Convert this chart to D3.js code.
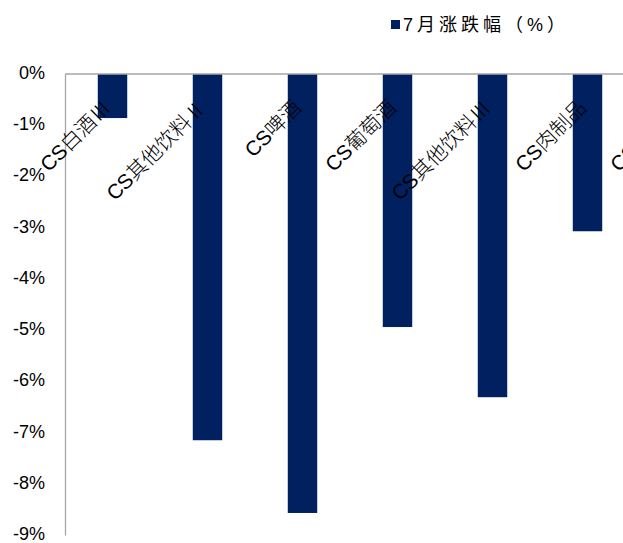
<!DOCTYPE html>
<html>
<head>
<meta charset="utf-8">
<style>
  body { margin: 0; background: #fff; }
  text { font-family: "Liberation Sans", Arial, "Noto Sans CJK SC", sans-serif; fill: #000; }
  .cat { font-size: 20.5px; }
  .cjk { font-family: "Noto Sans CJK SC", sans-serif; font-weight: 300; }
  .tick { font-size: 18px; }
</style>
<script src="https://d3js.org/d3.v7.min.js"></script>
</head>
<body>
<script>
    // categories and values (7月涨跌幅, %)
    var categories = ["CS白酒Ⅲ", "CS其他饮料Ⅱ", "CS啤酒", "CS葡萄酒", "CS其他饮料Ⅲ", "CS肉制品", "CS调味品"];
    var values = [-0.86, -7.15, -8.57, -4.94, -6.31, -3.07, -1.5];
    var yTicks = [0, -1, -2, -3, -4, -5, -6, -7, -8, -9];
    var seriesName = "7月涨跌幅（%）";

    var width = 623, height = 543;
    var color = "#002060";

    var svg = d3.select("body").append("svg")
        .attr("width", width)
        .attr("height", height);

    // plot area runs past the right edge, as in the original
    var x = d3.scaleBand().domain(categories)
        .range([65, 65 + 95 * categories.length])
        .paddingInner(0.69).paddingOuter(0.345);

    var y = d3.scaleLinear().domain([-9, 0]).range([535, 74]);

    // bars
    svg.selectAll("rect.bar")
      .data(values)
      .enter().append("rect")
      .attr("class", "bar")
      .attr("x", function(d, i) { return x(categories[i]); })
      .attr("y", y(0))
      .attr("width", x.bandwidth())
      .attr("height", function(d) { return y(d) - y(0); })
      .style("fill", color);

    // y axis
    var yAxis = d3.axisLeft(y).tickValues(yTicks)
        .tickSize(0).tickPadding(20)
        .tickFormat(function(d) { return d + "%"; });
    var gy = svg.append("g").attr("transform", "translate(65,0)").call(yAxis);
    gy.select(".domain").attr("stroke", "#a6a6a6").attr("stroke-width", 1.3);
    gy.selectAll("text").attr("class", "tick").attr("font-family", null).attr("font-size", null)
      .attr("dy", "0.25em");

    // zero line
    svg.append("line")
      .attr("x1", 65).attr("x2", width)
      .attr("y1", y(0)).attr("y2", y(0))
      .attr("stroke", "#a6a6a6").attr("stroke-width", 1.3);

    // category labels, rotated ("CS" in latin font, rest in CJK font)
    var labels = svg.selectAll("text.cat")
      .data(categories)
      .enter().append("text")
      .attr("class", "cat")
      .attr("text-anchor", "end")
      .attr("transform", function(d) {
          return "translate(" + (x(d) + x.bandwidth() / 2) + ",109) rotate(-45)";
      });
    labels.append("tspan").text(function(d) { return d.slice(0, 2); });
    labels.append("tspan").attr("class", "cjk").text(function(d) { return d.slice(2); });

    // legend
    var lg = svg.append("g").attr("transform", "translate(391,20)");
    lg.append("rect").attr("width", 9).attr("height", 9).style("fill", color);
    lg.append("text").attr("x", 12).attr("y", 11)
      .style("font-size", "18px").style("letter-spacing", "4px")
      .text(seriesName);
</script>
</body>
</html>
